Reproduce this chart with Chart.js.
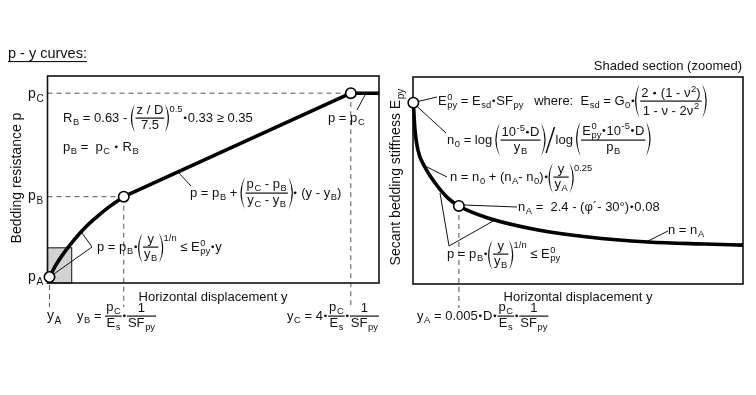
<!DOCTYPE html>
<html><head><meta charset="utf-8">
<script src="https://cdn.jsdelivr.net/npm/chart.js@4/dist/chart.umd.min.js"></script>
<style>html,body{margin:0;padding:0;background:#fff;width:756px;height:395px;overflow:hidden}
canvas{position:absolute;left:0;top:0}</style></head>
<body><canvas id="c1" width="756" height="395"></canvas><canvas id="c2" width="756" height="395"></canvas>
<script>
// ---------- DATA (arbitrary units, 0-100 on both axes of each panel) ----------
const leftCurveX = [0.6, 2.5, 4.8, 7.6, 10.8, 14.6, 18.7, 23.0];
const leftCurveY = [2.9, 8.6, 14.2, 20.0, 25.9, 31.6, 36.9, 41.7];
const leftLineX  = [23.0, 91.5, 100];
const leftLineY  = [41.7, 91.7, 91.7];
const leftKeyNames = ['A', 'B', 'C'];
const leftKeyX = [0.6, 23.0, 91.5];
const leftKeyY = [2.9, 41.7, 91.7];
const shadedX = [0, 7.3];
const shadedY = [0, 17];
const rightCurveX = [0.1, 0.6, 1.5, 3.6, 6.7, 10.6, 13.9, 22.7, 37.9, 53.0, 71.2, 88.5, 100];
const rightCurveY = [87.6, 74.4, 64.7, 56.5, 48.8, 41.5, 37.7, 31.9, 26.1, 22.7, 20.3, 19.3, 18.8];
const rightKeyX = [0.1, 13.9];
const rightKeyY = [87.6, 37.7];
const xTitle = 'Horizontal displacement y';
const leftYTitle = 'Bedding resistance p';
const rightYTitle = 'Secant bedding stiffness ';

// ---------- tiny formula layout engine ----------
const FF = '"Liberation Sans", Arial, Helvetica, sans-serif';
const INK = '#111';
function setFont(c, f){ c.font = f + 'px ' + FF; }
const nd = n => typeof n === 'string' ? T(n) : n;
function T(s){ return { m(c,f){ setFont(c,f); return {w:c.measureText(s).width, a:f*0.72, d:f*0.2}; }, d(c,x,y,f){ setFont(c,f); c.fillText(s,x,y); } }; }
function R(...ns){ ns = ns.map(nd); return {
  m(c,f){ let w=0,a=0,d=0; for(const n of ns){ const r=n.m(c,f); w+=r.w; a=Math.max(a,r.a); d=Math.max(d,r.d);} return {w,a,d}; },
  d(c,x,y,f){ for(const n of ns){ const r=n.m(c,f); n.d(c,x,y,f); x+=r.w; } } }; }
function S(base, sub, sup){ base=nd(base); sub=sub==null?null:nd(sub); sup=sup==null?null:nd(sup); const k=0.72;
  const supOff=(b,f)=>Math.max(f*0.42, b.a - f*0.62);
  const subOff=(b,f)=>Math.max(f*0.25, b.d - f*0.25);
  return {
  m(c,f){ const b=base.m(c,f), sf=f*k; const s1=sub?sub.m(c,sf):{w:0,a:0,d:0}, s2=sup?sup.m(c,sf):{w:0,a:0,d:0};
    return {w:b.w+Math.max(s1.w,s2.w)+0.6, a:Math.max(b.a, sup?supOff(b,f)+s2.a:0), d:Math.max(b.d, sub?subOff(b,f)+s1.d*0.5:0)}; },
  d(c,x,y,f){ const b=base.m(c,f), sf=f*k; base.d(c,x,y,f);
    if(sub) sub.d(c,x+b.w+0.6,y+subOff(b,f),sf); if(sup) sup.d(c,x+b.w+0.6,y-supOff(b,f),sf); } }; }
const Sb = (a,b) => S(a,b,null);
const Sp = (a,b) => S(a,null,b);
function Fr(num, den){ num=nd(num); den=nd(den); return {
  m(c,f){ const n=num.m(c,f), d=den.m(c,f); const ax=f*0.3; return {w:Math.max(n.w,d.w)+2, a:ax+1.2+n.d+n.a, d:1.5+d.a+d.d-ax}; },
  d(c,x,y,f){ const n=num.m(c,f), d=den.m(c,f); const w=Math.max(n.w,d.w)+2; const ax=y-f*0.3;
    c.fillRect(x, ax-0.6, w, 1.2); num.d(c,x+(w-n.w)/2, ax-1.2-n.d, f); den.d(c,x+(w-d.w)/2, ax+1.5+d.a, f); } }; }
function paren(c, x, top, bot, dir, f){ const h=bot-top; const b=Math.min(f*0.34, h*0.14)*2;
  c.beginPath(); c.moveTo(x, top); c.quadraticCurveTo(x+dir*b, (top+bot)/2, x, bot);
  c.quadraticCurveTo(x+dir*(b-2.4), (top+bot)/2, x, top); c.fill(); }
function P(inner){ inner=nd(inner); return {
  m(c,f){ const r=inner.m(c,f); const pw=f*0.36; return {w:r.w+2*pw, a:r.a+1, d:r.d+1}; },
  d(c,x,y,f){ const r=inner.m(c,f); const pw=f*0.36; const top=y-r.a-1, bot=y+r.d+1;
    paren(c, x+pw*0.85, top, bot, -1, f); inner.d(c, x+pw, y, f); paren(c, x+pw+r.w+pw*0.15, top, bot, 1, f); } }; }
const Dt = { m(c,f){ return {w:f*0.4, a:0, d:0}; }, d(c,x,y,f){ c.beginPath(); c.arc(x+f*0.2, y-f*0.32, f*0.11, 0, 2*Math.PI); c.fill(); } };
const Sl = { m(c,f){ return {w:f*0.8, a:f*1.3, d:f*0.7}; }, d(c,x,y,f){ c.beginPath(); c.moveTo(x+1, y+f*0.7); c.lineTo(x+f*0.8-1, y-f*1.3); c.lineWidth=1.5; c.stroke(); } };
function put(c, node, x, y, f, align){ const r=node.m(c,f); if(align==='center') x-=r.w/2; else if(align==='right') x-=r.w; node.d(c,x,y,f); return r; }
function seg(c, pts, w, dash){ c.save(); c.beginPath(); c.setLineDash(dash||[]); c.lineWidth=w||1; c.moveTo(pts[0][0],pts[0][1]); for(let i=1;i<pts.length;i++) c.lineTo(pts[i][0],pts[i][1]); c.stroke(); c.restore(); }

const E0py = S('E','py','0');
const F = 13;

// ---------- chart factory ----------
const zip = (xs, ys) => xs.map((x,i) => ({x, y:ys[i]}));
function mk(id, pad, datasets, plugin){
  return new Chart(document.getElementById(id), { type:'scatter', data:{datasets},
    options:{ responsive:false, animation:false, devicePixelRatio:1, events:[], layout:{padding:pad},
      scales:{ x:{type:'linear', min:0, max:100, display:false}, y:{type:'linear', min:0, max:100, display:false} },
      plugins:{ legend:{display:false}, tooltip:{enabled:false} } },
    plugins:[plugin] });
}
const lineDs = (pts, mono) => ({ data:pts, showLine:true, borderColor:'#000', borderWidth:3.6, pointRadius:0, tension: mono?0.4:0,
  cubicInterpolationMode: mono?'monotone':'default', clip:false, order:3, borderCapStyle:'butt', borderJoinStyle:'round' });
const keyDs = pts => ({ data:pts, showLine:false, pointRadius:5.2, pointBackgroundColor:'#fff', pointBorderColor:'#000', pointBorderWidth:1.6, clip:false, order:0 });

// ---------- LEFT PANEL ----------
const leftPlugin = { id:'leftDeco',
  beforeDatasetsDraw(ch){ const c=ch.ctx, a=ch.chartArea, X=ch.scales.x, Y=ch.scales.y;
    c.save(); c.fillStyle=INK; c.strokeStyle=INK;
    const sx0=X.getPixelForValue(shadedX[0]), sx1=X.getPixelForValue(shadedX[1]), sy0=Y.getPixelForValue(shadedY[0]), sy1=Y.getPixelForValue(shadedY[1]);
    c.fillStyle='#d2d2d2'; c.fillRect(sx0, sy1, sx1-sx0, sy0-sy1); c.lineWidth=1.1; c.strokeStyle='#222'; c.strokeRect(sx0, sy1, sx1-sx0, sy0-sy1);
    c.strokeStyle='#555';
    const px = leftKeyX.map(v=>X.getPixelForValue(v)), py = leftKeyY.map(v=>Y.getPixelForValue(v));
    seg(c, [[a.left, py[1]], [px[1], py[1]]], 1, [5,4]);
    seg(c, [[a.left, py[2]], [px[2], py[2]]], 1, [5,4]);
    seg(c, [[px[0], a.bottom+2], [px[0], 307]], 1, [5,4]);
    seg(c, [[px[1], py[1]], [px[1], 307]], 1, [5,4]);
    seg(c, [[px[2], py[2]], [px[2], 306]], 1, [5,4]);
    c.strokeStyle='#111'; c.lineWidth=1.6; c.strokeRect(a.left, a.top, a.right-a.left, a.bottom-a.top);
    c.strokeStyle='#111';
    seg(c, [[px[0]+3, py[0]-2], [92, 247], [82, 233]], 1);
    seg(c, [[178, 172], [191, 186]], 1);
    seg(c, [[365, 95], [357, 110]], 1);
    c.restore(); },
  afterDraw(ch){ const c=ch.ctx; c.save(); c.fillStyle=INK; c.strokeStyle=INK; c.textBaseline='alphabetic'; c.textAlign='left';
    setFont(c, 14.5); c.fillText('p - y curves:', 8, 58); const tw=c.measureText('p - y curves:').width; c.fillRect(8, 61, tw, 1.1);
    put(c, Sb('p','C'), 28, 98, 14); put(c, Sb('p','B'), 28, 200, 14); put(c, Sb('p','A'), 28, 281, 14);
    put(c, T(xTitle), 213, 301, F, 'center');
    c.save(); c.translate(21, 178); c.rotate(-Math.PI/2); put(c, T(leftYTitle), 0, 0, 14, 'center'); c.restore();
    put(c, R(Sb('R','B'), ' = 0.63 - ', Sp(P(Fr('z / D','7.5')), '0.5'), Dt, '0.33', ' ≥ 0.35'), 63, 122, F);
    put(c, R(Sb('p','B'), ' =  ', Sb('p','C'), ' ', Dt, ' ', Sb('R','B')), 63, 151, F);
    put(c, R('p = ', Sb('p','C')), 328, 122, F);
    put(c, R('p = ', Sb('p','B'), ' + ', P(Fr(R(Sb('p','C'),' - ',Sb('p','B')), R(Sb('y','C'),' - ',Sb('y','B')))), Dt, ' (y - ', Sb('y','B'), ')'), 190, 197, F);
    put(c, R('p = ', Sb('p','B'), Dt, Sp(P(Fr('y', Sb('y','B'))), '1/n'), ' ≤ ', E0py, Dt, 'y'), 97, 251, F);
    put(c, Sb('y','A'), 47, 320, 14);
    put(c, R(Sb('y','B'), ' = ', Fr(Sb('p','C'), Sb('E','s')), Dt, Fr('1', Sb('SF','py'))), 77, 320, F);
    put(c, R(Sb('y','C'), ' = 4', Dt, Fr(Sb('p','C'), Sb('E','s')), Dt, Fr('1', Sb('SF','py'))), 287, 320, F);
    c.restore(); } };

mk('c1', {left:47.5, top:76, right:377, bottom:112}, [
  lineDs(zip(leftCurveX, leftCurveY), true),
  lineDs(zip(leftLineX, leftLineY), false),
  keyDs(zip(leftKeyX, leftKeyY))
], leftPlugin);

// ---------- RIGHT PANEL ----------
const rightPlugin = { id:'rightDeco',
  beforeDatasetsDraw(ch){ const c=ch.ctx, a=ch.chartArea, X=ch.scales.x, Y=ch.scales.y;
    c.save(); c.fillStyle=INK; c.strokeStyle='#555';
    const px = rightKeyX.map(v=>X.getPixelForValue(v)), py = rightKeyY.map(v=>Y.getPixelForValue(v));
    seg(c, [[px[1], py[1]], [px[1], 308]], 1, [5,4]);
    c.strokeStyle='#111'; c.lineWidth=1.6; c.strokeRect(a.left, a.top, a.right-a.left, a.bottom-a.top);
    seg(c, [[px[0]+4, py[0]-1], [437, 97]], 1);
    seg(c, [[px[0]+4, py[0]+4], [446, 133]], 1);
    seg(c, [[423, 165], [447, 177]], 1);
    seg(c, [[px[1]+4, py[1]-1], [517, 207]], 1);
    seg(c, [[648, 241], [668, 231]], 1);
    seg(c, [[440, 193], [449, 246], [495, 220]], 1);
    c.restore(); },
  afterDraw(ch){ const c=ch.ctx; c.save(); c.fillStyle=INK; c.strokeStyle=INK; c.textBaseline='alphabetic'; c.textAlign='left';
    put(c, T('Shaded section (zoomed)'), 742, 70, F, 'right');
    put(c, T(xTitle), 578, 301, F, 'center');
    c.save(); c.translate(400, 177); c.rotate(-Math.PI/2); put(c, R(rightYTitle, Sb('E','py')), 0, 0, 14, 'center'); c.restore();
    put(c, R(E0py, ' = ', Sb('E','sd'), Dt, Sb('SF','py'), '   where:  ', Sb('E','sd'), ' = ', Sb('G','0'), Dt,
      P(Fr(R('2 ', Dt, ' (1 - ', Sp('ν','2'), ')'), R('1 - ν - 2', Sp('ν','2'))))), 438, 105, F);
    put(c, R(Sb('n','0'), ' = log ', P(Fr(R(Sp('10','-5'), Dt, 'D'), Sb('y','B'))), Sl, 'log ',
      P(Fr(R(E0py, Dt, Sp('10','-5'), Dt, 'D'), Sb('p','B')))), 447, 144, F);
    put(c, R('n = ', Sb('n','0'), ' + (', Sb('n','A'), '- ', Sb('n','0'), ')', Dt, Sp(P(Fr('y', Sb('y','A'))), '0.25')), 450, 181, F);
    put(c, R(Sb('n','A'), ' =  2.4 - (φ´- 30°)', Dt, '0.08'), 518, 211, F);
    put(c, R('n = ', Sb('n','A')), 668, 234, F);
    put(c, R('p = ', Sb('p','B'), Dt, Sp(P(Fr('y', Sb('y','B'))), '1/n'), ' ≤ ', E0py), 447, 258, F);
    put(c, R(Sb('y','A'), ' = 0.005', Dt, 'D', Dt, Fr(Sb('p','C'), Sb('E','s')), Dt, Fr('1', Sb('SF','py'))), 417, 320, F);
    c.restore(); } };

mk('c2', {left:413, top:77, right:13, bottom:111}, [
  lineDs(zip(rightCurveX, rightCurveY), true),
  keyDs(zip(rightKeyX, rightKeyY))
], rightPlugin);
</script></body></html>
